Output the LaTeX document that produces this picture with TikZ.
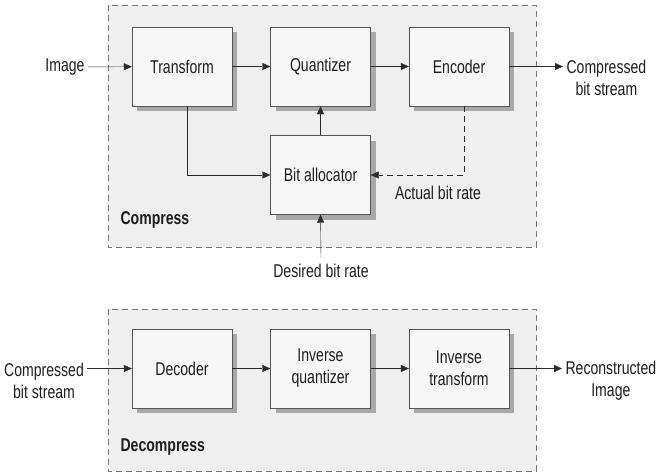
\documentclass[tikz,border=0pt]{standalone}
\usepackage{fontspec}
\setmainfont{Liberation Sans}[FakeStretch=0.76]
\usepackage{tikz}
\usetikzlibrary{positioning,calc,shadows,arrows.meta}

\definecolor{framefill}{HTML}{EFEFEF}
\definecolor{boxfill}{HTML}{F7F7F7}
\definecolor{shadowgray}{HTML}{A8A8A8}
\definecolor{linegray}{HTML}{2A2A2A}
\definecolor{edgegray}{HTML}{555555}
\definecolor{textgray}{HTML}{1E1E1E}

\tikzset{
    block/.style={draw=edgegray, fill=boxfill, minimum width=100pt, minimum height=79pt,
        align=center, inner sep=2pt, text=textgray,
        drop shadow={shadow xshift=5pt, shadow yshift=-5pt, fill=shadowgray, opacity=1}},
    stage/.style={draw=edgegray!80, dash pattern=on 6pt off 4pt, fill=framefill},
    arr/.style={draw=linegray, -{Triangle[length=8pt,width=7pt]}},
    lbl/.style={align=center, text=textgray}
}

\begin{document}
\begin{tikzpicture}[x=1pt, y=-1pt, font=\fontsize{18.5}{22}\selectfont]
    \useasboundingbox (0,0) rectangle (660,475);

    % Compress stage
    \draw[stage] (108,5) rectangle (536,247);
    \node[block] (transform) at (182,66.5) {Transform};
    \node[block] (quant) at (320.5,66.5) {Quantizer};
    \node[block] (enc) at (459,66.5) {Encoder};
    \node[block] (alloc) at (320.5,175) {Bit allocator};
    \node[font=\fontsize{18.5}{22}\selectfont\bfseries, text=textgray, anchor=west] (comp) at (117,220) {Compress};

    % Compress labels
    \node[lbl] (img) at (65,67) {Image};
    \node[lbl, anchor=west] (cout) at (563,78) {Compressed\\bit stream};
    \node[lbl] (actual) at (438,193) {Actual bit rate};
    \node[lbl] (desired) at (321,271) {Desired bit rate};

    % Compress connectors
    \draw[arr] (img) -- (transform);
    \draw[arr] (transform) -- (quant);
    \draw[arr] (quant) -- (enc);
    \draw[arr] (enc.east) -- (enc.east -| cout.west);
    \draw[arr] (alloc) -- (quant);
    \draw[arr] ($(transform.south)+(5,0)$) |- (alloc.west);
    \draw[arr, dash pattern=on 6pt off 4pt] ($(enc.south)+(5,0)$) |- (alloc.east);
    \draw[arr] (desired.north) ++(0,-3) -- (alloc.south);

    % Decompress stage
    \draw[stage] (108,309) rectangle (536,471);
    \node[block] (dec) at (182,368.5) {Decoder};
    \node[block] (invq) at (320.5,368.5) {Inverse\\quantizer};
    \node[block] (invt) at (459,368.5) {Inverse\\transform};
    \node[font=\fontsize{18.5}{22}\selectfont\bfseries, text=textgray, anchor=west] (decomp) at (117,447) {Decompress};

    % Decompress labels
    \node[lbl] (cin) at (44,381) {Compressed\\bit stream};
    \node[lbl, anchor=west] (rec) at (562,381) {Reconstructed\\Image};

    % Decompress connectors
    \draw[arr] (cin.east |- dec.west) -- (dec.west);
    \draw[arr] (dec) -- (invq);
    \draw[arr] (invq) -- (invt);
    \draw[arr] (invt.east) -- (invt.east -| rec.west);
\end{tikzpicture}
\end{document}
